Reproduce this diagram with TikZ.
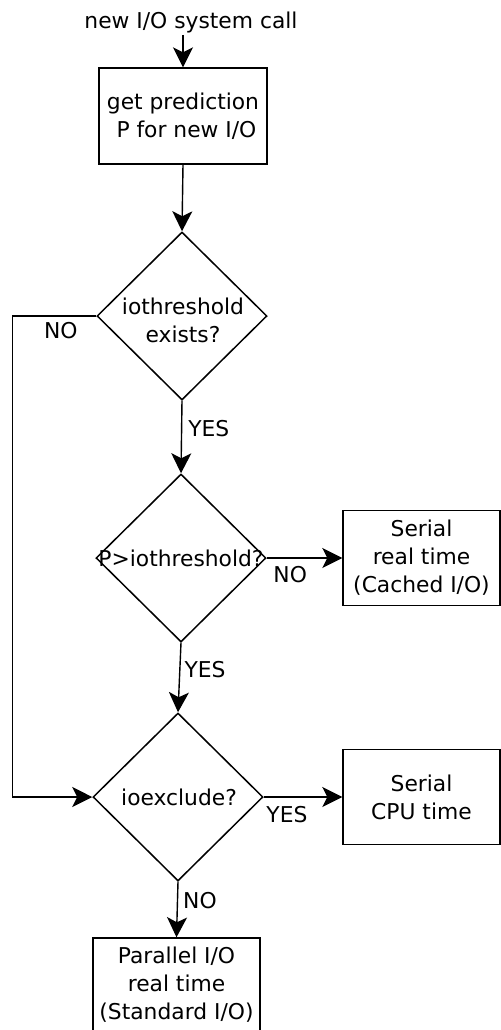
\documentclass[tikz,border=0pt]{standalone}
\usepackage{fontspec}
\setmainfont{DejaVu Sans}
\usetikzlibrary{shapes.geometric,arrows.meta}
\begin{document}
\begin{tikzpicture}[x=0.5pt,y=-0.5pt,
  every node/.style={font=\fontsize{10.9}{14}\selectfont},
  box/.style={draw, line width=0.7pt, inner sep=0pt, align=center},
  dia/.style={draw, diamond, line width=0.75pt, inner sep=0pt,
              minimum width=85pt, minimum height=84pt},
  txt/.style={inner sep=0pt, align=center},
  flow/.style={draw, line width=0.7pt, -{Stealth[length=10pt,width=10pt,inset=2.5pt]}},
  lbl/.style={inner sep=0pt}]
\useasboundingbox (0,0) rectangle (501,1030);

% entry
\node[lbl] (call) at (191,22) {new I/O system call};
\coordinate (callend) at ([yshift=-1pt]call.south);

% process boxes
\node[box, minimum width=84pt, minimum height=48pt] (b1) at (183,116)
  {get prediction\\~P for new I/O};
\node[box, minimum width=78.5pt, minimum height=47.5pt] (b2) at (421.5,558)
  {Serial\\real time\\(Cached I/O)};
\node[box, minimum width=78.5pt, minimum height=47.5pt] (b3) at (421.5,797)
  {Serial\\CPU time};
\node[box, minimum width=83.5pt, minimum height=46.5pt] (b4) at (176.5,984.5)
  {Parallel I/O\\real time\\(Standard I/O)};

% decisions
\node[dia] (d1) at (182,316) {};
\node[txt] (d1t) at (183,320) {iothreshold\\exists?};
\node[dia] (d2) at (181,558) {};
\node[txt] (d2t) at (181,558) {P>iothreshold?};
\node[dia] (d3) at (178,797) {};
\node[txt] (d3t) at (179,797) {ioexclude?};

% connectors
\draw[flow] (callend -| b1.north) -- (b1.north);
\draw[flow] (b1.south) -- (d1.north);
\draw[flow] (d1.south) -- node[lbl, pos=0.38, anchor=west, xshift=3pt] (y1) {YES} (d2.north);
\draw[flow] (d1.west) -- node[lbl, at start, anchor=north east, xshift=-9pt, yshift=-3pt] (n1) {NO}
  ++(-84,0) |- (d3.west);
\draw[flow] (d2.east) -- node[lbl, at start, anchor=north west, xshift=3pt, yshift=-4pt] (n2) {NO} (b2.west);
\draw[flow] (d2.south) -- node[lbl, pos=0.38, anchor=west, xshift=2pt] (y2) {YES} (d3.north);
\draw[flow] (d3.east) -- node[lbl, at start, anchor=north west, xshift=1pt, yshift=-4.5pt] (y3) {YES} (b3.west);
\draw[flow] (d3.south) -- node[lbl, pos=0.33, anchor=west, xshift=2.5pt] (n3) {NO} (b4.north);
\end{tikzpicture}
\end{document}
